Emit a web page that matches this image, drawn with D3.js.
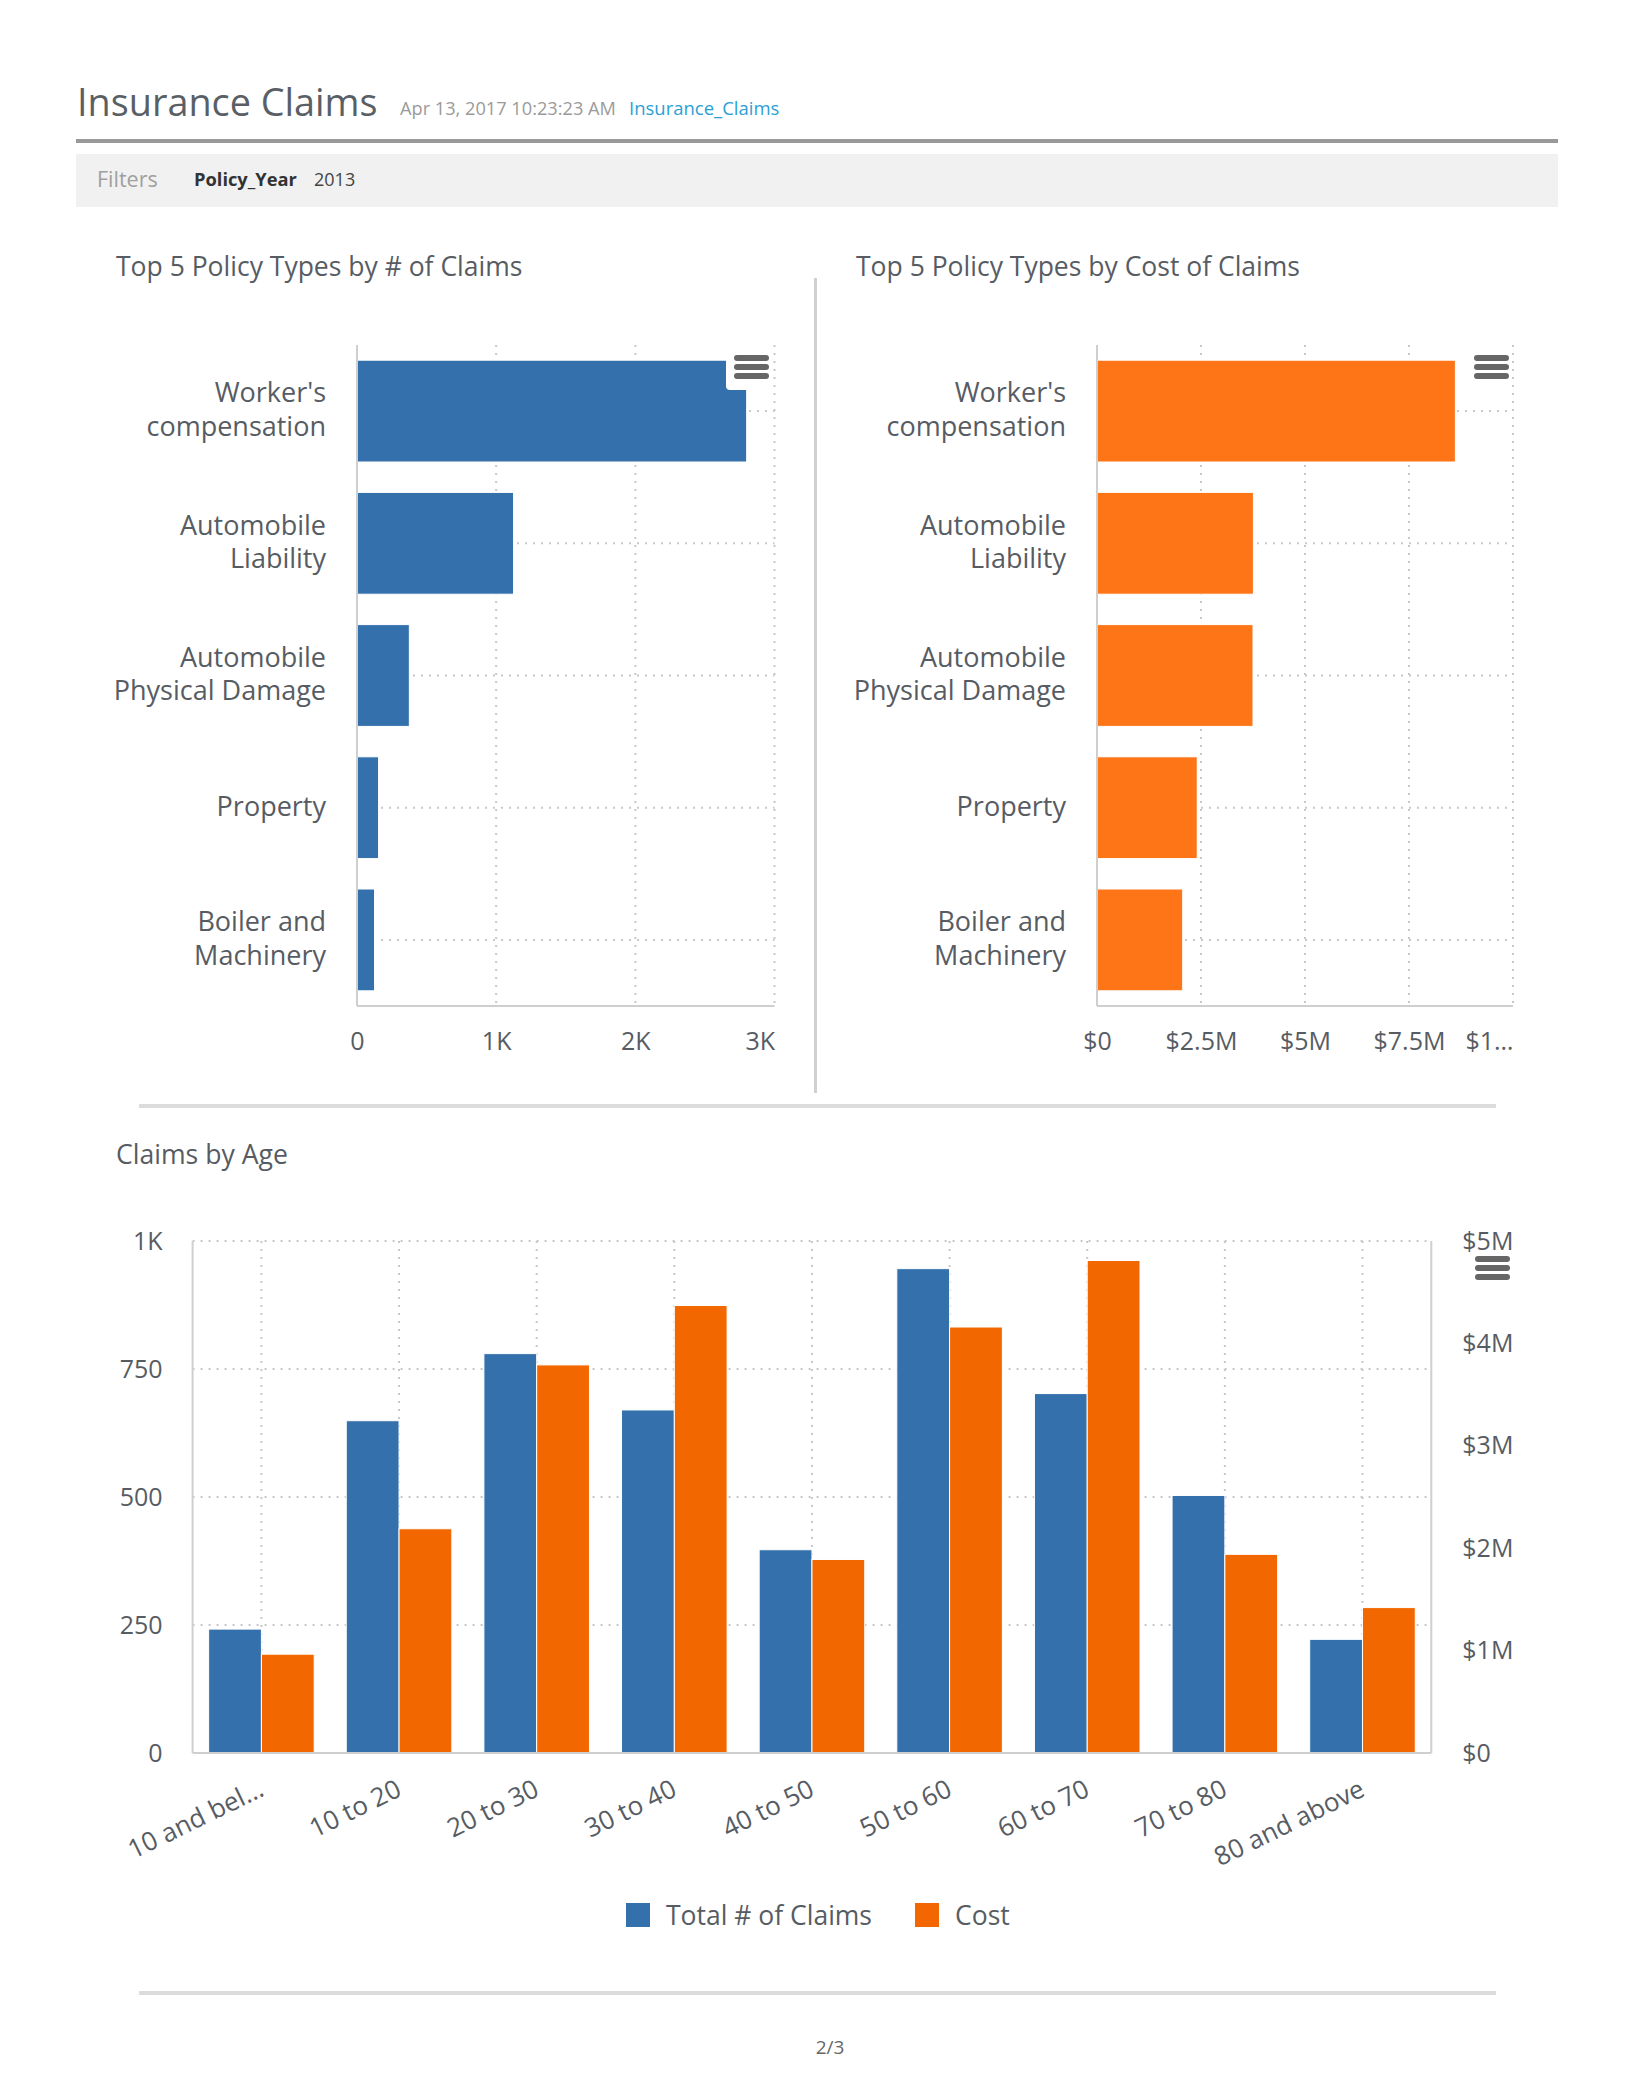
<!DOCTYPE html>
<html><head><meta charset="utf-8">
<script src="https://cdn.jsdelivr.net/npm/d3@7"></script>
<style>
body{margin:0;background:#fff}
text{font-family:"Open Sans",sans-serif}
</style>
</head><body>
<svg id="c" width="1652" height="2097"></svg>
<script>
// ---------- data ----------
const policyTypes = ["Worker's compensation","Automobile Liability","Automobile Physical Damage","Property","Boiler and Machinery"];
const policyLabelLines = [["Worker's","compensation"],["Automobile","Liability"],["Automobile","Physical Damage"],["Property"],["Boiler and","Machinery"]];
const claimCounts = [2800, 1125, 376, 155, 126];
const claimCosts = [8615000, 3760000, 3750000, 2410000, 2060000];
const countTicks = [0, 1000, 2000, 3000];
const countTickLabels = ["0","1K","2K","3K"];
const costTicks = [0, 2500000, 5000000, 7500000, 10000000];
const costTickLabels = ["$0","$2.5M","$5M","$7.5M","$1\u2026"];

const ageGroups = ["10 and below","10 to 20","20 to 30","30 to 40","40 to 50","50 to 60","60 to 70","70 to 80","80 and above"];
const ageGroupLabels = ["10 and bel\u2026","10 to 20","20 to 30","30 to 40","40 to 50","50 to 60","60 to 70","70 to 80","80 and above"];
const ageClaims = [242, 649, 780, 670, 397, 946, 702, 503, 222];
const ageCost = [965000, 2190000, 3790000, 4370000, 1890000, 4160000, 4810000, 1940000, 1420000];
const ageClaimTicks = [0, 250, 500, 750, 1000];
const ageClaimTickLabels = ["0","250","500","750","1K"];
const ageCostTicks = [0, 1000000, 2000000, 3000000, 4000000, 5000000];
const ageCostTickLabels = ["$0","$1M","$2M","$3M","$4M","$5M"];
const seriesNames = ["Total # of Claims","Cost"];

// ---------- styles ----------
const BLUE = "#3470ab", ORANGE_TOP = "#fd7517", ORANGE = "#f26700";
const TXT = "#575c63", GRID = "#c8c8c8", AXIS = "#cfcfcf";

const svg = d3.select("#c");

// ---------- header ----------
svg.append("text").attr("x",77).attr("y",116).attr("font-size",37.8).attr("fill","#5a5f66").text("Insurance Claims");
svg.append("text").attr("x",400).attr("y",115).attr("font-size",18.2).attr("fill","#9a9a9a").text("Apr 13, 2017 10:23:23 AM");
svg.append("text").attr("x",629).attr("y",115).attr("font-size",18.5).attr("fill","#2a9fd6").text("Insurance_Claims");
svg.append("rect").attr("x",76).attr("y",139).attr("width",1482).attr("height",4).attr("fill","#999");
svg.append("rect").attr("x",76).attr("y",154).attr("width",1482).attr("height",53).attr("fill","#f1f1f2");
svg.append("text").attr("x",97).attr("y",187).attr("font-size",21.5).attr("fill","#a0a0a0").text("Filters");
svg.append("text").attr("x",194).attr("y",186).attr("font-size",18.3).attr("font-weight","bold").attr("fill","#333").text("Policy_Year");
svg.append("text").attr("x",314).attr("y",186).attr("font-size",18).attr("fill","#444").text("2013");

// divider + separators
svg.append("rect").attr("x",814).attr("y",278).attr("width",3).attr("height",815).attr("fill","#d0d0d0");
svg.append("rect").attr("x",139).attr("y",1104).attr("width",1357).attr("height",4).attr("fill","#dcdcdc");
svg.append("rect").attr("x",139).attr("y",1991).attr("width",1357).attr("height",4).attr("fill","#dcdcdc");
svg.append("text").attr("x",830).attr("y",2054).attr("text-anchor","middle").attr("font-size",19).attr("fill","#666").text("2/3");

function menuIcon(x, y, bg){
  const g = svg.append("g").attr("transform",`translate(${x},${y})`);
  if (bg) g.append("rect").attr("x",-8).attr("y",-5).attr("width",47).attr("height",40).attr("rx",4).attr("fill","#fff");
  [0,9,18].forEach(d=>g.append("rect").attr("x",0).attr("y",d).attr("width",35).attr("height",6).attr("rx",3).attr("fill","#666"));
}

// ---------- horizontal bar charts ----------
function hbar(opts){
  const {title, titleX, x0, x1, labelX, values, domainMax, ticks, tickLabels, color} = opts;
  const top = 345, bottom = 1006;
  svg.append("text").attr("x",titleX).attr("y",276).attr("font-size",26.5).attr("fill",TXT).text(title);
  const x = d3.scaleLinear([0, domainMax],[x0, x1]);
  const y = d3.scaleBand(policyTypes,[top, bottom]).paddingInner(0.23).paddingOuter(0.115);
  const g = svg.append("g");
  g.selectAll(".hg").data(policyTypes).join("line")
    .attr("x1",x0).attr("x2",x1)
    .attr("y1",d=>y(d)+y.bandwidth()/2).attr("y2",d=>y(d)+y.bandwidth()/2)
    .attr("stroke",GRID).attr("stroke-width",2).attr("stroke-dasharray","2,6");
  g.selectAll(".vg").data(ticks.slice(1)).join("line")
    .attr("x1",d=>x(d)).attr("x2",d=>x(d)).attr("y1",top).attr("y2",bottom)
    .attr("stroke",GRID).attr("stroke-width",2).attr("stroke-dasharray","2,6");
  g.selectAll(".bar").data(values).join("rect")
    .attr("x",x0).attr("y",(d,i)=>y(policyTypes[i]))
    .attr("width",d=>x(d)-x0).attr("height",y.bandwidth())
    .attr("fill",color).attr("stroke","#fff").attr("stroke-width",1);
  g.append("line").attr("x1",x0).attr("x2",x0).attr("y1",top).attr("y2",bottom).attr("stroke",AXIS).attr("stroke-width",2);
  g.append("line").attr("x1",x0).attr("x2",x1).attr("y1",bottom).attr("y2",bottom).attr("stroke",AXIS).attr("stroke-width",2);
  const ax = svg.append("g").attr("transform",`translate(0,${bottom})`)
    .call(d3.axisBottom(x).tickValues(ticks).tickFormat((d,i)=>tickLabels[i]).tickSize(0).tickPadding(0));
  ax.select(".domain").remove();
  ax.selectAll("text").attr("font-family","Open Sans").attr("font-size",25).attr("fill",TXT).attr("y",44).attr("dy",0);
  ax.selectAll(".tick").filter((d,i)=>i===ticks.length-1).select("text").attr("text-anchor","end");
  policyTypes.forEach((p,i)=>{
    const lines = policyLabelLines[i];
    const cy = y(p)+y.bandwidth()/2;
    const t = svg.append("text").attr("text-anchor","end").attr("font-size",27).attr("fill",TXT);
    lines.forEach((l,j)=>{
      t.append("tspan").attr("x",labelX).attr("y",cy + (j-(lines.length-1)/2)*33.5 + 8).text(l);
    });
  });
}

hbar({title:"Top 5 Policy Types by # of Claims", titleX:116, x0:357, x1:774.5, labelX:326,
  values:claimCounts, domainMax:3000, ticks:countTicks, tickLabels:countTickLabels, color:BLUE});
hbar({title:"Top 5 Policy Types by Cost of Claims", titleX:856, x0:1097, x1:1513, labelX:1066,
  values:claimCosts, domainMax:10000000, ticks:costTicks, tickLabels:costTickLabels, color:ORANGE_TOP});
menuIcon(734, 355, true);
menuIcon(1474, 355, false);

// ---------- column chart ----------
(function(){
  const L = 192.6, R = 1431.3, T = 1241, B = 1753;
  svg.append("text").attr("x",116).attr("y",1164).attr("font-size",26.6).attr("fill",TXT).text("Claims by Age");
  const x0 = d3.scaleBand(ageGroups,[L,R]).paddingInner(0.233).paddingOuter(0.1165);
  const x1 = d3.scaleBand(seriesNames,[0,x0.bandwidth()]);
  const yL = d3.scaleLinear([0,1000],[B,T]);
  const yR = d3.scaleLinear([0,5000000],[B,T]);
  const g = svg.append("g");
  g.selectAll(".hg").data(ageClaimTicks.slice(1)).join("line")
    .attr("x1",L).attr("x2",R).attr("y1",d=>yL(d)).attr("y2",d=>yL(d))
    .attr("stroke",GRID).attr("stroke-width",2).attr("stroke-dasharray","2,6");
  g.selectAll(".vg").data(ageGroups).join("line")
    .attr("x1",d=>x0(d)+x0.bandwidth()/2).attr("x2",d=>x0(d)+x0.bandwidth()/2)
    .attr("y1",T).attr("y2",B)
    .attr("stroke",GRID).attr("stroke-width",2).attr("stroke-dasharray","2,6");
  g.selectAll(".b1").data(ageClaims).join("rect")
    .attr("x",(d,i)=>x0(ageGroups[i])+x1(seriesNames[0])).attr("y",d=>yL(d))
    .attr("width",x1.bandwidth()).attr("height",d=>B-yL(d))
    .attr("fill",BLUE).attr("stroke","#fff").attr("stroke-width",1);
  g.selectAll(".b2").data(ageCost).join("rect")
    .attr("x",(d,i)=>x0(ageGroups[i])+x1(seriesNames[1])).attr("y",d=>yR(d))
    .attr("width",x1.bandwidth()).attr("height",d=>B-yR(d))
    .attr("fill",ORANGE).attr("stroke","#fff").attr("stroke-width",1);
  g.append("line").attr("x1",L).attr("x2",L).attr("y1",T).attr("y2",B).attr("stroke",AXIS).attr("stroke-width",2);
  g.append("line").attr("x1",R).attr("x2",R).attr("y1",T).attr("y2",B).attr("stroke",AXIS).attr("stroke-width",2);
  g.append("line").attr("x1",L).attr("x2",R).attr("y1",B).attr("y2",B).attr("stroke",AXIS).attr("stroke-width",2);
  const al = svg.append("g").attr("transform",`translate(${L},0)`)
    .call(d3.axisLeft(yL).tickValues(ageClaimTicks).tickFormat((d,i)=>ageClaimTickLabels[i]).tickSize(0).tickPadding(30));
  al.select(".domain").remove();
  al.selectAll("text").attr("font-family","Open Sans").attr("font-size",25).attr("fill",TXT);
  const ar = svg.append("g").attr("transform",`translate(${R},0)`)
    .call(d3.axisRight(yR).tickValues(ageCostTicks).tickFormat((d,i)=>ageCostTickLabels[i]).tickSize(0).tickPadding(31));
  ar.select(".domain").remove();
  ar.selectAll("text").attr("font-family","Open Sans").attr("font-size",25).attr("fill",TXT);
  const ax = svg.append("g").attr("transform",`translate(0,${B})`)
    .call(d3.axisBottom(x0).tickFormat((d,i)=>ageGroupLabels[i]).tickSize(0).tickPadding(0));
  ax.select(".domain").remove();
  ax.selectAll("text").attr("font-family","Open Sans").attr("font-size",26).attr("fill",TXT)
    .attr("text-anchor","end").attr("y",0).attr("dy",0)
    .attr("transform","translate(4,42) rotate(-26)");
  const lg = svg.append("g");
  const legendX = [626, 915];
  seriesNames.forEach((s,i)=>{
    lg.append("rect").attr("x",legendX[i]).attr("y",1903).attr("width",24).attr("height",24)
      .attr("fill", i===0?BLUE:ORANGE);
    lg.append("text").attr("x",legendX[i]+40).attr("y",1925).attr("font-size",26.5).attr("fill",TXT).text(s);
  });
  menuIcon(1475, 1256, false);
})();
</script>
</body></html>
